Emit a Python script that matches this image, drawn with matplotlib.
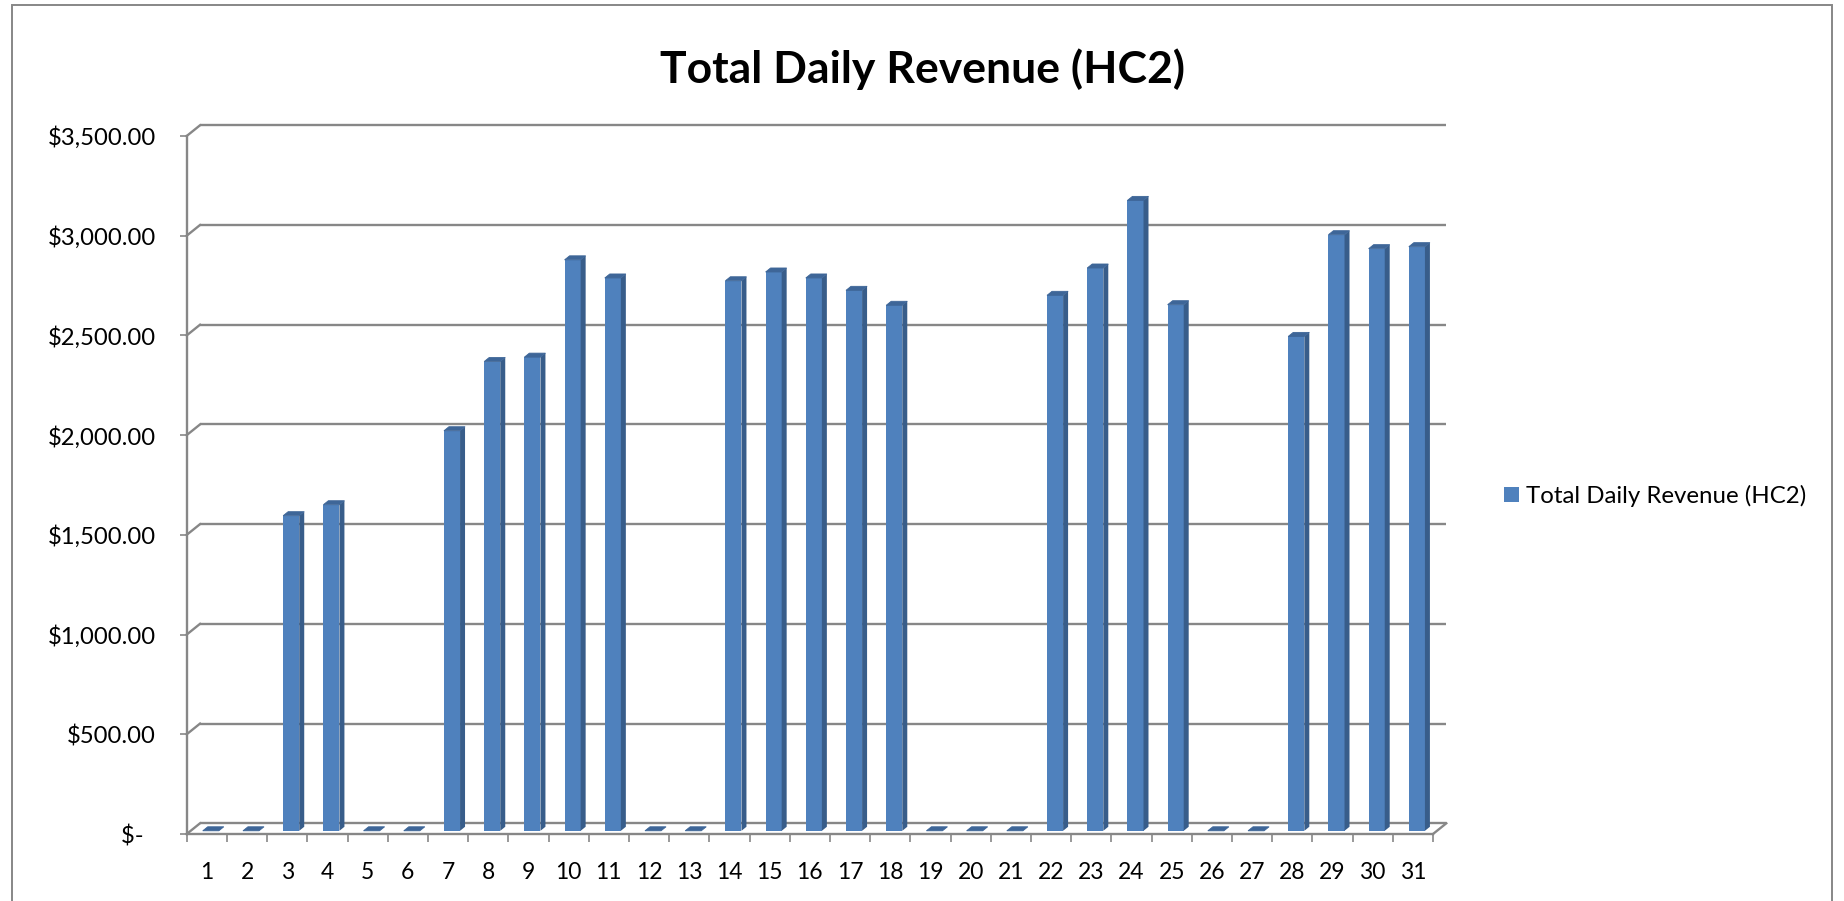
import matplotlib
matplotlib.use("Agg")
import matplotlib.pyplot as plt
from matplotlib.patches import Polygon, Rectangle, Patch
from matplotlib.ticker import FixedLocator, NullFormatter

# data
days = list(range(1, 32))
revenue = [0, 0, 1580, 1635, 0, 0, 2006, 2353, 2375, 2863, 2772, 0, 0,
           2758, 2802, 2772, 2710, 2635, 0, 0, 0, 2685, 2822, 3161, 2638,
           0, 0, 2479, 2989, 2919, 2929]
y_ticks = [0, 500, 1000, 1500, 2000, 2500, 3000, 3500]
y_labels = ["$-  ", "$500.00", "$1,000.00", "$1,500.00", "$2,000.00",
            "$2,500.00", "$3,000.00", "$3,500.00"]
title = "Total Daily Revenue (HC2)"
series_name = "Total Daily Revenue (HC2)"

W, H = 1844, 901
plt.rcParams["font.family"] = ["Lato", "DejaVu Sans"]
fig = plt.figure(figsize=(W / 100, H / 100), dpi=100)

GRID = "#878787"
FRONT = "#4F81BD"
SIDE = "#385D8A"
TOP = "#3E6698"

# front plane of the plot area, in pixels
px0, px1 = 186.7, 1433.0
py0, py1 = 834.0, 136.0
ax = fig.add_axes([px0 / W, 1 - py0 / H, (px1 - px0) / W, (py0 - py1) / H])
ax.set_xlim(0.5, 31.5)
ax.set_ylim(0, 3500)

# depth of the 3d box converted to data units
dx = 13.3 / ((px1 - px0) / 31)
dy = 10.7 / ((py0 - py1) / 3500)

# back wall gridlines + diagonal connectors
for v in y_ticks:
    ax.plot([0.5 + dx, 31.5 + dx], [v + dy, v + dy], color=GRID, lw=1.7,
            zorder=1, clip_on=False, solid_capstyle="butt")
    ax.plot([0.5, 0.5 + dx], [v, v + dy], color=GRID, lw=1.7, zorder=1,
            clip_on=False)
ax.plot([31.5, 31.5 + dx], [0, dy], color=GRID, lw=1.7, zorder=1, clip_on=False)

# bars: front face, side face, top face
f0, k = 0.3, 0.375
bw = 0.4
for d, v in zip(days, revenue):
    xl = d + f0 * dx - bw / 2
    xr = d + f0 * dx + bw / 2
    b = f0 * dy
    t = v + f0 * dy
    if v > 0:
        ax.add_patch(Rectangle((xl, b), bw, v, facecolor=FRONT, lw=0, zorder=3))
        ax.add_patch(Polygon([(xr, b), (xr, t), (xr + k * dx, t + k * dy),
                              (xr + k * dx, b + k * dy)], closed=True,
                             facecolor=SIDE, lw=0, zorder=3))
    ax.add_patch(Polygon([(xl, t), (xr, t), (xr + k * dx, t + k * dy),
                          (xl + k * dx, t + k * dy)], closed=True,
                         facecolor=TOP, edgecolor=TOP, lw=0.6, zorder=3,
                         clip_on=False))

for s in ["top", "right"]:
    ax.spines[s].set_visible(False)
for s in ["left", "bottom"]:
    ax.spines[s].set_color(GRID)
    ax.spines[s].set_linewidth(1.7)
    ax.spines[s].set_zorder(4)

ax.set_yticks(y_ticks)
ax.set_yticklabels(y_labels)
ax.tick_params(axis="y", length=5, width=1.2, color=GRID, pad=17,
               labelsize=17.2, labelcolor="black")

ax.xaxis.set_major_locator(FixedLocator([d + 0.5 for d in [0] + days]))
ax.xaxis.set_major_formatter(NullFormatter())
ax.xaxis.set_minor_locator(FixedLocator(days))
ax.set_xticklabels([str(d) for d in days], minor=True)
ax.tick_params(axis="x", which="major", length=6, width=1.2, color=GRID)
ax.tick_params(axis="x", which="minor", length=0, pad=20, labelsize=16.5,
               labelcolor="black")

ax.set_facecolor("none")

fig.text(0.5, 1 - 83 / H, title, ha="center", va="baseline",
         fontsize=32, fontweight="bold")

fig.legend(handles=[Patch(facecolor=FRONT, label=series_name)],
           loc="center left", bbox_to_anchor=(1504 / W, 1 - 496 / H),
           frameon=False, fontsize=17.3, handlelength=0.63, handleheight=0.63,
           handletextpad=0.3, borderpad=0, borderaxespad=0)

# chart frame
fig.patches.append(Rectangle((12 / W, -0.05), (1832 - 12) / W, 1.05 - 5 / H,
                             transform=fig.transFigure, fill=False,
                             edgecolor=GRID, lw=1.4))

fig.savefig("out.png", dpi=100)
